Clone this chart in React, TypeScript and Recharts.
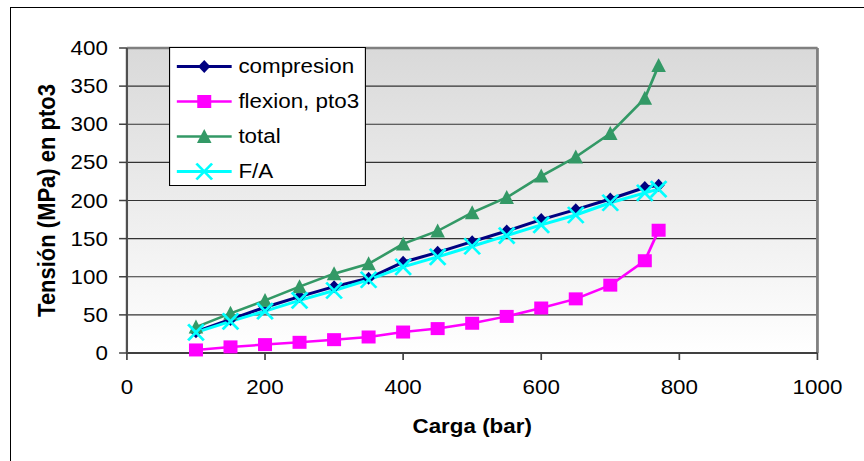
import React from 'react';
import {
  LineChart,
  Line,
  XAxis,
  YAxis,
  CartesianGrid,
  ReferenceLine,
  Legend,
} from 'recharts';

// Load (bar) and the stresses (MPa) measured at point 3
const carga = [100, 150, 200, 250, 300, 350, 400, 450, 500, 550, 600, 650, 700, 750, 770];
const compresion = [28, 44, 60, 74, 87, 98, 119, 132, 146, 160, 175, 188, 202, 217, 220];
const flexion = [4, 8, 11, 14, 17.5, 21, 27.5, 32, 39, 48, 59, 71, 89, 121, 161];
const total = [34, 52, 69, 87, 104, 117, 143, 160, 184, 204, 232, 257, 288, 334, 377];
const fa = [27, 41.5, 55, 69, 82, 96, 113, 126, 140, 154, 168, 181, 197, 210, 215];

const xTicks = [0, 200, 400, 600, 800, 1000];
const yTicks = [0, 50, 100, 150, 200, 250, 300, 350, 400];

const seriesNames = ['compresion', 'flexion, pto3', 'total', 'F/A'];

const data = carga.map((c, i) => ({
  carga: c,
  compresion: compresion[i],
  flexion: flexion[i],
  total: total[i],
  fa: fa[i],
}));

const FONT = '"Liberation Sans", Arial, sans-serif';
const STRETCH = 864 / 772;

type Kind = 'diamond' | 'square' | 'triangle' | 'cross';

const SERIES: { key: string; name: string; color: string; kind: Kind; width: number }[] = [
  { key: 'compresion', name: seriesNames[0], color: '#000080', kind: 'diamond', width: 3 },
  { key: 'flexion', name: seriesNames[1], color: '#FF00FF', kind: 'square', width: 2.5 },
  { key: 'total', name: seriesNames[2], color: '#339966', kind: 'triangle', width: 2.5 },
  { key: 'fa', name: seriesNames[3], color: '#00FFFF', kind: 'cross', width: 3 },
];

function Marker({ kind, cx, cy, color }: { kind: Kind; cx: number; cy: number; color: string }) {
  if (kind === 'diamond') {
    return (
      <polygon
        points={`${cx},${cy - 6.5} ${cx + 5.5},${cy} ${cx},${cy + 6.5} ${cx - 5.5},${cy}`}
        fill={color}
      />
    );
  }
  if (kind === 'square') {
    return <rect x={cx - 6.25} y={cy - 6.5} width={12.5} height={13} fill={color} />;
  }
  if (kind === 'triangle') {
    return (
      <polygon
        points={`${cx},${cy - 7.5} ${cx + 6.5},${cy + 6.5} ${cx - 6.5},${cy + 6.5}`}
        fill={color}
      />
    );
  }
  return (
    <g stroke={color} strokeWidth={2.5}>
      <line x1={cx - 7} y1={cy - 8} x2={cx + 7} y2={cy + 8} />
      <line x1={cx - 7} y1={cy + 8} x2={cx + 7} y2={cy - 8} />
    </g>
  );
}

function LegendBox() {
  return (
    <div
      style={{
        width: 176,
        height: 139,
        boxSizing: 'border-box',
        border: '1px solid #000',
        background: '#fff',
        paddingTop: 0.5,
        fontFamily: FONT,
      }}
    >
      {SERIES.map((s) => (
        <div key={s.key} style={{ display: 'flex', alignItems: 'center', height: 35 }}>
          <svg width={61} height={35} style={{ display: 'block', flex: 'none' }}>
            <line x1={6} y1={17.5} x2={55} y2={17.5} stroke={s.color} strokeWidth={s.width} />
            <Marker kind={s.kind} cx={30.5} cy={17.5} color={s.color} />
          </svg>
          <span style={{ fontSize: 20, color: '#000', lineHeight: '35px', whiteSpace: 'nowrap' }}>
            {s.name}
          </span>
        </div>
      ))}
    </div>
  );
}

function YTitle(props: any) {
  const vb = props.viewBox || {};
  const x = vb.x + 39;
  const y = vb.y + vb.height / 2;
  return (
    <text
      x={x}
      y={y}
      transform={`rotate(-90 ${x} ${y})`}
      textAnchor="middle"
      fontFamily={FONT}
      fontSize={22}
      fontWeight="bold"
      fill="#000"
    >
      Tensión (MPa) en pto3
    </text>
  );
}

function XTitle(props: any) {
  const vb = props.viewBox || {};
  return (
    <text
      x={vb.x + vb.width / 2}
      y={433}
      textAnchor="middle"
      fontFamily={FONT}
      fontSize={20}
      fontWeight="bold"
      fill="#000"
    >
      Carga (bar)
    </text>
  );
}

export default function App() {
  return (
    <div
      style={{
        position: 'absolute',
        left: 0,
        top: 0,
        width: 864,
        height: 461,
        overflow: 'hidden',
        background: '#fff',
      }}
    >
      <div
        style={{
          position: 'absolute',
          left: 10,
          top: 7,
          width: 900,
          height: 500,
          border: '1.5px solid #000',
        }}
      />
      <div
        style={{
          position: 'absolute',
          left: 0,
          top: 0,
          width: 772,
          height: 461,
          transform: `scaleX(${STRETCH})`,
          transformOrigin: '0 0',
        }}
      >
        <LineChart
          width={772}
          height={461}
          data={data}
          margin={{ top: 48, right: 41.6, bottom: 10, left: 10 }}
        >
          <defs>
            <linearGradient id="plotBg" x1="0" y1="0" x2="0" y2="1">
              <stop offset="0%" stopColor="#d9d9d9" />
              <stop offset="100%" stopColor="#ffffff" />
            </linearGradient>
          </defs>
          <CartesianGrid vertical={false} stroke="#333333" strokeWidth={1.2} fill="url(#plotBg)" fillOpacity={1} />
          <XAxis
            dataKey="carga"
            type="number"
            domain={[0, 1000]}
            ticks={xTicks}
            interval={0}
            height={98}
            tickSize={7}
            tickMargin={20}
            axisLine={{ stroke: '#404040', strokeWidth: 2 }}
            tickLine={{ stroke: '#404040', strokeWidth: 1.5 }}
            tick={{ fill: '#000', fontSize: 20, fontFamily: FONT }}
            label={{ content: XTitle }}
          />
          <YAxis
            type="number"
            domain={[0, 400]}
            ticks={yTicks}
            interval={0}
            width={103.4}
            tickSize={7}
            tickMargin={10}
            axisLine={{ stroke: '#505050', strokeWidth: 2 }}
            tickLine={{ stroke: '#404040', strokeWidth: 1.5 }}
            tick={{ fill: '#000', fontSize: 20, fontFamily: FONT }}
            label={{ content: YTitle }}
          />
          <ReferenceLine y={400} stroke="#808080" strokeWidth={2.5} />
          <ReferenceLine x={1000} stroke="#808080" strokeWidth={2.5} />
          {SERIES.map((s) => (
            <Line
              key={s.key}
              type="linear"
              dataKey={s.key}
              name={s.name}
              stroke={s.color}
              strokeWidth={s.width}
              isAnimationActive={false}
              activeDot={false}
              dot={(p: any) => (
                <Marker key={`${s.key}-${p.index}`} kind={s.kind} cx={p.cx} cy={p.cy} color={s.color} />
              )}
            />
          ))}
          <Legend
            layout="vertical"
            align="center"
            verticalAlign="middle"
            wrapperStyle={{ left: 151, top: 47, width: 176, height: 139 }}
            content={() => <LegendBox />}
          />
        </LineChart>
      </div>
    </div>
  );
}
